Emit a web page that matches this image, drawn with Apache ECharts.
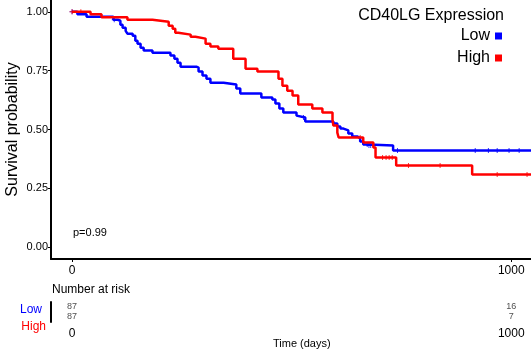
<!DOCTYPE html>
<html>
<head>
<meta charset="utf-8">
<script src="https://cdn.jsdelivr.net/npm/echarts@6/dist/echarts.min.js"></script>
<style>
  html, body { margin: 0; padding: 0; background: #fff; }
  #chart { width: 531px; height: 360px; }
</style>
</head>
<body>
<div id="chart"></div>
<script>
// step curves: time (days) where the drop happens, survival after the drop
var lowTime = [0, 12, 33, 94, 104, 110, 115, 122, 126, 138, 144, 149, 156, 163, 183, 224, 233, 240, 247, 283, 288, 297, 306, 315, 345, 374, 383, 431, 456, 463, 472, 481, 511, 515, 531, 595, 604, 611, 618, 629, 638, 650, 656, 663, 675, 731, 1045]
var lowSurv = [1, 0.989, 0.979, 0.966, 0.962, 0.945, 0.932, 0.919, 0.907, 0.898, 0.877, 0.864, 0.847, 0.835, 0.826, 0.814, 0.801, 0.784, 0.767, 0.763, 0.746, 0.729, 0.716, 0.699, 0.691, 0.674, 0.653, 0.636, 0.627, 0.610, 0.589, 0.572, 0.559, 0.551, 0.534, 0.525, 0.513, 0.504, 0.496, 0.483, 0.470, 0.462, 0.449, 0.436, 0.432, 0.411, 0.411]
var highTime = [0, 42, 67, 126, 183, 220, 229, 235, 242, 270, 281, 304, 315, 333, 367, 395, 422, 470, 479, 490, 502, 515, 547, 570, 593, 595, 604, 607, 663, 686, 691, 738, 911, 1045]
var highSurv = [1, 0.989, 0.977, 0.966, 0.958, 0.941, 0.928, 0.911, 0.903, 0.894, 0.886, 0.864, 0.852, 0.843, 0.801, 0.758, 0.746, 0.716, 0.686, 0.665, 0.644, 0.606, 0.589, 0.572, 0.540, 0.517, 0.487, 0.466, 0.445, 0.424, 0.381, 0.347, 0.309, 0.309]
// censored times
var lowCensor = [0, 96, 527, 672, 676, 680, 741, 918, 948, 968, 995, 1018]
var highCensor = [0, 20, 656, 707, 715, 722, 729, 766, 838, 968, 1036]
// number at risk
var riskTimes = [0, 1000]
var lowRisk = [87, 16]
var highRisk = [87, 7]
var yTicks = [0, 0.25, 0.5, 0.75, 1]
var xTicks = [0, 1000]

function pairs(t, s) {
    return t.map(function(v, i) { return [v, s[i]] })
}
// survival at a censor time
function survAt(t, s, x) {
    var v = s[0]
    for (var i = 0; i < t.length; i++) {
        if (t[i] <= x) v = s[i]
    }
    return v
}
function censorPts(c, t, s) {
    return c.map(function(x) { return [x, survAt(t, s, x)] })
}

var plus = 'path://M4,0H6V4H10V6H6V10H4V6H0V4H4Z'
var font = 'Liberation Sans'

function timeAxis(idx) {
    return {
        gridIndex: idx,
        type: 'value',
        min: -48,
        max: 1045,
        splitLine: { show: false },
        axisLine: { onZero: false, lineStyle: { color: '#000', width: 2 } },
        axisTick: { customValues: xTicks, length: 3, lineStyle: { color: '#000' } },
        axisLabel: { customValues: xTicks, color: '#000', fontSize: 12, margin: 6, formatter: function(v) { return String(v) } }
    }
}

var chart = echarts.init(document.getElementById('chart'))
chart.setOption({
    animation: false,
    textStyle: { fontFamily: font },
    title: {
        text: 'CD40LG Expression',
        right: 22,
        top: 3,
        textStyle: { fontFamily: font, fontSize: 16, fontWeight: 'normal', color: '#000' }
    },
    legend: {
        data: ['Low', 'High'],
        orient: 'vertical',
        right: 24,
        top: 23,
        align: 'right',
        itemWidth: 7,
        itemHeight: 7,
        itemGap: 6,
        icon: 'rect',
        textStyle: { fontFamily: font, fontSize: 16, color: '#000' }
    },
    grid: [
        { left: 51, top: 0, width: 480, height: 259, outerBoundsMode: 'none' },
        { left: 51, top: 302, width: 480, height: 20, outerBoundsMode: 'none' }
    ],
    xAxis: [timeAxis(0), timeAxis(1)],
    yAxis: [
        {
            gridIndex: 0,
            type: 'value',
            min: -0.05,
            max: 1.05,
            name: 'Survival probability',
            nameLocation: 'middle',
            nameGap: 30,
            nameMoveOverlap: false,
            nameTextStyle: { fontFamily: font, fontSize: 16, color: '#000' },
            splitLine: { show: false },
            axisLine: { show: true, onZero: false, lineStyle: { color: '#000', width: 2 } },
            axisTick: { show: true, customValues: yTicks, length: 3, lineStyle: { color: '#000' } },
            axisLabel: {
                customValues: yTicks,
                color: '#000',
                fontSize: 11,
                margin: 3,
                formatter: function(v) { return v.toFixed(2) }
            }
        },
        {
            gridIndex: 1,
            type: 'category',
            data: ['High', 'Low'],
            axisLine: { show: true, onZero: false, lineStyle: { color: '#000', width: 2 } },
            axisTick: { show: false },
            axisLabel: { show: false }
        }
    ],
    graphic: [
        { type: 'text', left: 73, top: 227, style: { text: 'p=0.99', fontFamily: font, fontSize: 11, fill: '#000' } },
        { type: 'text', left: 52, top: 284, style: { text: 'Number at risk', fontFamily: font, fontSize: 12, fill: '#000' } },
        { type: 'text', right: 489, top: 304, style: { text: 'Low', fontFamily: font, fontSize: 12, fill: '#0000ff' } },
        { type: 'text', right: 485, top: 321, style: { text: 'High', fontFamily: font, fontSize: 12, fill: '#ff0000' } },
        { type: 'text', left: 273, top: 338, style: { text: 'Time (days)', fontFamily: font, fontSize: 11, fill: '#000' } }
    ],
    series: [
        {
            name: 'Low',
            type: 'line',
            step: 'end',
            xAxisIndex: 0,
            yAxisIndex: 0,
            showSymbol: false,
            color: '#0000ff',
            lineStyle: { width: 2.5 },
            data: pairs(lowTime, lowSurv)
        },
        {
            name: 'High',
            type: 'line',
            step: 'end',
            xAxisIndex: 0,
            yAxisIndex: 0,
            showSymbol: false,
            color: '#ff0000',
            lineStyle: { width: 2.5 },
            data: pairs(highTime, highSurv)
        },
        {
            name: 'LowCensor',
            type: 'scatter',
            xAxisIndex: 0,
            yAxisIndex: 0,
            symbol: plus,
            symbolSize: 5,
            itemStyle: { color: '#0000ff' },
            data: censorPts(lowCensor, lowTime, lowSurv)
        },
        {
            name: 'HighCensor',
            type: 'scatter',
            xAxisIndex: 0,
            yAxisIndex: 0,
            symbol: plus,
            symbolSize: 5,
            itemStyle: { color: '#ff0000' },
            data: censorPts(highCensor, highTime, highSurv)
        },
        {
            name: 'riskLow',
            type: 'scatter',
            xAxisIndex: 1,
            yAxisIndex: 1,
            symbolSize: 0,
            label: { show: true, position: 'inside', fontSize: 9, color: '#222', formatter: function(p) { return p.value[2] } },
            data: riskTimes.map(function(t, i) { return [t, 'Low', lowRisk[i]] })
        },
        {
            name: 'riskHigh',
            type: 'scatter',
            xAxisIndex: 1,
            yAxisIndex: 1,
            symbolSize: 0,
            label: { show: true, position: 'inside', fontSize: 9, color: '#222', formatter: function(p) { return p.value[2] } },
            data: riskTimes.map(function(t, i) { return [t, 'High', highRisk[i]] })
        }
    ]
})
</script>
</body>
</html>
